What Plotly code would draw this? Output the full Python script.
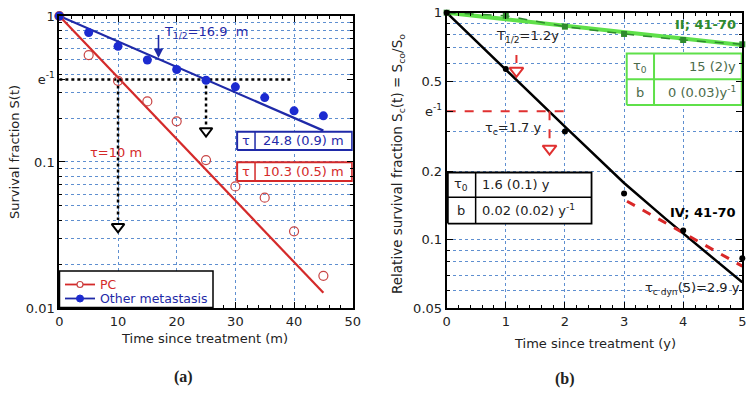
import math
import plotly.graph_objects as go

# ---------------- data: panel (a) ----------------
t_a = [0, 5, 10, 15, 20, 25, 30, 35, 40, 45]
pc_s = [1.0, 0.54, 0.36, 0.26, 0.19, 0.103, 0.068, 0.057, 0.0335, 0.0166]
met_s = [1.0, 0.77, 0.62, 0.50, 0.43, 0.363, 0.327, 0.276, 0.224, 0.207]
fit_t_a = [0, 45]
pc_fit_s = [1.0, 0.0127]
met_fit_s = [1.0, 0.164]
yticks_a = [0.01, math.exp(-1), 0.1, 1]
yticktext_a = ["0.01", "e<sup>-1</sup>", "0.1", "1"]
legend_names = ["PC", "Other metastasis"]

# ---------------- data: panel (b) ----------------
t_b = [0, 1, 2, 3, 4, 5]
iv_s = [1.0, 0.565, 0.30, 0.16, 0.11, 0.083]
ii_s = [1.0, 0.97, 0.868, 0.806, 0.758, 0.726]
iv_fit_t = [0, 1, 2, 3, 3.7, 5]
iv_fit_s = [1.0, 0.56, 0.315, 0.178, 0.124, 0.065]
ii_fit_t = [0, 5]
ii_fit_s = [1.0, 0.72]
tan_t = [3.05, 5]
tan_s = [0.148, 0.0766]
yticks_b = [0.05, 0.1, 0.2, math.exp(-1), 0.5, 1]
yticktext_b = ["0.05", "0.1", "0.2", "e<sup>-1</sup>", "0.5", "1"]

E1 = math.exp(-1)
L = math.log10

FONT = "DejaVu Sans"
BLUE = "#1f2aa8"
BLUE_PT = "#1c2bd0"
RED = "#d42a2a"
RED_PT = "#c84545"
GRID = "#5f8fd0"
GREEN_L = "#5fe04a"
GREEN_D = "#2e8a2e"
GREEN_T = "#4b6b4b"
RED_D = "#e03030"

fig = go.Figure()


def line(x, y, color, width, dash="solid", xa="x", ya="y"):
    fig.add_trace(go.Scatter(x=x, y=y, mode="lines", xaxis=xa, yaxis=ya,
                             line=dict(color=color, width=width, dash=dash),
                             showlegend=False, hoverinfo="skip", cliponaxis=False))


def box(x0, x1, y0, y1, color, width, xa, ya):
    fig.add_trace(go.Scatter(x=[x0, x1, x1, x0, x0], y=[y0, y0, y1, y1, y0], mode="lines",
                             fill="toself", fillcolor="white", xaxis=xa, yaxis=ya,
                             line=dict(color=color, width=width), showlegend=False,
                             hoverinfo="skip", cliponaxis=False))


def head(x, y, color, size, xa, ya):
    fig.add_trace(go.Scatter(x=[x], y=[y], mode="markers", xaxis=xa, yaxis=ya,
                             marker=dict(symbol="triangle-down", size=size, color="white",
                                         line=dict(color=color, width=2)),
                             showlegend=False, hoverinfo="skip", cliponaxis=False))


# ---------- panel (a) ----------
line(fit_t_a, pc_fit_s, RED, 2.2)
line(fit_t_a, met_fit_s, BLUE, 2.2)
line([0, 39.6], [E1, E1], "black", 2.5, "dot")
line([10, 10], [E1, 0.040], "black", 2.5, "dot")
line([25, 25], [E1, 0.179], "black", 2.5, "dot")
head(10, 0.036, "black", 11, "x", "y")
head(25, 0.163, "black", 11, "x", "y")
box(30.3, 49.9, 0.121, 0.161, BLUE, 2, "x", "y")
line([33.35, 33.35], [0.121, 0.161], BLUE, 1.5)
box(30.3, 49.9, 0.0741, 0.0995, RED, 2, "x", "y")
line([33.35, 33.35], [0.0741, 0.0995], RED, 1.5)

fig.add_trace(go.Scatter(x=t_a, y=pc_s, mode="markers", xaxis="x", yaxis="y", name=legend_names[0],
                         marker=dict(symbol="circle-open", size=9, color=RED_PT, line=dict(width=1.2)),
                         showlegend=False, cliponaxis=False))
fig.add_trace(go.Scatter(x=t_a, y=met_s, mode="markers", xaxis="x", yaxis="y", name=legend_names[1],
                         marker=dict(symbol="circle", size=9, color=BLUE_PT),
                         showlegend=False, cliponaxis=False))

# ---------- panel (b) ----------
line(ii_fit_t, ii_fit_s, GREEN_L, 4, xa="x2", ya="y2")
line(t_b, ii_s, GREEN_D, 1.5, "dash", xa="x2", ya="y2")
line(iv_fit_t, iv_fit_s, "black", 2.5, xa="x2", ya="y2")
line(tan_t, tan_s, "#d92828", 3, "dash", xa="x2", ya="y2")
line([0, 2.03], [E1, E1], RED_D, 2, "dash", xa="x2", ya="y2")
line([1.74, 1.74], [E1, 0.275], RED_D, 2, "dash", xa="x2", ya="y2")
line([1.18, 1.18], [0.651, 0.60], RED_D, 2, "dash", xa="x2", ya="y2")
head(1.74, 0.252, RED_D, 12, "x2", "y2")
head(1.18, 0.555, RED_D, 12, "x2", "y2")
box(3.045, 4.99, 0.392, 0.662, GREEN_L, 2, "x2", "y2")
line([3.507, 3.507], [0.392, 0.662], GREEN_L, 2, xa="x2", ya="y2")
line([3.045, 4.99], [0.51, 0.51], GREEN_L, 2, xa="x2", ya="y2")
box(0.02, 2.45, 0.118, 0.198, "black", 1.8, "x2", "y2")
line([0.49, 0.49], [0.118, 0.198], "black", 1.5, xa="x2", ya="y2")
line([0.02, 2.45], [0.154, 0.154], "black", 1.5, xa="x2", ya="y2")

fig.add_trace(go.Scatter(x=t_b, y=ii_s, mode="markers", xaxis="x2", yaxis="y2",
                         marker=dict(symbol="square", size=6, color=GREEN_D),
                         showlegend=False, cliponaxis=False))
fig.add_trace(go.Scatter(x=t_b, y=iv_s, mode="markers", xaxis="x2", yaxis="y2",
                         marker=dict(symbol="circle", size=6, color="black"),
                         showlegend=False, cliponaxis=False))

# ---------- axes ----------
tickfont = dict(family=FONT, size=13, color="#222")


def xaxis(domain, rng, dtick, mdtick, anchor):
    return dict(domain=domain, range=rng, dtick=dtick, tick0=0, anchor=anchor, automargin=False,
                ticks="inside", ticklen=6, tickwidth=1.2, tickcolor="black",
                showline=True, linecolor="black", linewidth=2, mirror="allticks",
                showgrid=True, gridcolor=GRID, griddash="dot", gridwidth=1, zeroline=False,
                minor=dict(dtick=mdtick, ticks="inside", ticklen=3, tickcolor="black", showgrid=False),
                tickfont=tickfont)


def yaxis(domain, rng, tv, tt, minor_vals, anchor):
    return dict(domain=domain, type="log", range=rng, tickmode="array", tickvals=tv, ticktext=tt,
                anchor=anchor, automargin=False, ticks="inside", ticklen=6, tickwidth=1.2,
                tickcolor="black", showline=True, linecolor="black", linewidth=2, mirror="allticks",
                showgrid=False, zeroline=False,
                minor=dict(tickmode="array", tickvals=minor_vals, ticks="inside", ticklen=3,
                           tickcolor="black", showgrid=True, gridcolor=GRID, griddash="dot", gridwidth=1),
                tickfont=tickfont)


minor_a = [0.02, 0.03, 0.04, 0.05, 0.06, 0.07, 0.08, 0.09, 0.1,
           0.2, 0.3, 0.4, 0.5, 0.6, 0.7, 0.8, 0.9]
minor_b = [0.06, 0.07, 0.08, 0.09, 0.1, 0.2, 0.3, 0.5, 0.6, 0.7, 0.8, 0.9]

fig.update_layout(
    width=754, height=395, margin=dict(l=0, r=0, t=0, b=0),
    paper_bgcolor="white", plot_bgcolor="white", showlegend=False,
    xaxis=xaxis([0.0787, 0.4678], [0, 50], 10, 2, "y"),
    yaxis=yaxis([0.2203, 0.9595], [-2, 0], yticks_a, yticktext_a, minor_a, "x"),
    xaxis2=xaxis([0.5924, 0.9845], [0, 5], 1, 0.2, "y2"),
    yaxis2=yaxis([0.2195, 0.9679], [L(0.05), 0], yticks_b, yticktext_b, minor_b, "x2"),
)

# ---------- legend box for panel (a), drawn in paper pixels ----------
W, H = 754.0, 395.0
px = lambda v: v / W
py = lambda v: 1 - v / H
shapes = [
    dict(type="rect", xref="paper", yref="paper", x0=px(59.5), x1=px(213), y0=py(271), y1=py(307.5),
         line=dict(color="black", width=1.5), fillcolor="white", layer="above"),
    dict(type="line", xref="paper", yref="paper", x0=px(65), x1=px(95), y0=py(284.5), y1=py(284.5),
         line=dict(color=RED, width=1.8), layer="above"),
    dict(type="circle", xref="paper", yref="paper", x0=px(77), x1=px(83), y0=py(281.5), y1=py(287.5),
         line=dict(color=RED_PT, width=1.2), fillcolor="white", layer="above"),
    dict(type="line", xref="paper", yref="paper", x0=px(65), x1=px(95), y0=py(298.5), y1=py(298.5),
         line=dict(color=BLUE, width=1.8), layer="above"),
    dict(type="circle", xref="paper", yref="paper", x0=px(76.5), x1=px(83.5), y0=py(295), y1=py(302),
         line=dict(color=BLUE_PT, width=1), fillcolor=BLUE_PT, layer="above"),
]
fig.update_layout(shapes=shapes)

ann = []


def text(x, y, s, xa, ya, color="black", size=13, xanchor="center", bold=False, family=FONT):
    ann.append(dict(x=x, y=y, xref=xa, yref=ya, text=("<b>%s</b>" % s) if bold else s,
                    showarrow=False, xanchor=xanchor, yanchor="middle",
                    font=dict(family=family, size=size, color=color)))


# panel (a) texts
text(17.5, L(0.765), "T<sub>1/2</sub>=16.9  m", "x", "y", BLUE, 13, "left")
ann.append(dict(x=16.9, y=L(0.515), ax=16.9, ay=L(0.76), xref="x", yref="y", axref="x", ayref="y",
                showarrow=True, arrowhead=2, arrowsize=1.2, arrowwidth=1.6, arrowcolor=BLUE, text=""))
text(9.66, L(0.117), "τ=10 m", "x", "y", RED, 13)
text(31.8, (L(0.121) + L(0.161)) / 2, "τ", "x", "y", BLUE, 13)
text(41.6, (L(0.121) + L(0.161)) / 2, "24.8 (0.9) m", "x", "y", BLUE, 13)
text(31.8, (L(0.0741) + L(0.0995)) / 2, "τ", "x", "y", RED, 13)
text(41.6, (L(0.0741) + L(0.0995)) / 2, "10.3 (0.5) m", "x", "y", RED, 13)

# panel (b) texts
text(1.367, -0.107, "T<sub>1/2</sub>=1.2y", "x2", "y2", "#222", 13)
text(1.13, -0.508, "τ<sub>c</sub>=1.7 y", "x2", "y2", "#222", 13)
text(3.27, (L(0.662) + L(0.51)) / 2, "τ<sub>0</sub>", "x2", "y2", GREEN_T, 13)
text(4.93, (L(0.662) + L(0.51)) / 2, "15 (2)y", "x2", "y2", GREEN_T, 13, "right")
text(3.27, (L(0.51) + L(0.392)) / 2, "b", "x2", "y2", GREEN_T, 13)
text(4.93, (L(0.51) + L(0.392)) / 2, "0 (0.03)y<sup>-1</sup>", "x2", "y2", GREEN_T, 13, "right")
text(0.25, (L(0.198) + L(0.154)) / 2, "τ<sub>0</sub>", "x2", "y2", "#222", 13)
text(0.56, (L(0.198) + L(0.154)) / 2, "1.6 (0.1) y", "x2", "y2", "#222", 13, "left")
text(0.25, (L(0.154) + L(0.118)) / 2, "b", "x2", "y2", "#222", 13)
text(0.56, (L(0.154) + L(0.118)) / 2, "0.02 (0.02) y<sup>-1</sup>", "x2", "y2", "#222", 13, "left")
text(4.93, -0.054, "II; 41-70", "x2", "y2", GREEN_D, 13, "right", True)
text(4.93, -0.881, "IV; 41-70", "x2", "y2", "black", 13, "right", True)
text(4.99, -1.213, "τ<sub>c dyn</sub>(5)=2.9 y", "x2", "y2", "#222", 13, "right")


# axis titles, legend labels and captions (paper coords)
def ptext(x, y, s, size=13, angle=0, family=FONT, bold=False, color="#222", xanchor="center"):
    ann.append(dict(x=x / W, y=1 - y / H, xref="paper", yref="paper",
                    text=("<b>%s</b>" % s) if bold else s, showarrow=False, textangle=angle,
                    xanchor=xanchor, yanchor="middle", font=dict(family=family, size=size, color=color)))


ptext(98, 284.5, legend_names[0], 12.5, color=RED, xanchor="left")
ptext(98, 298.5, legend_names[1], 12.5, color=BLUE, xanchor="left")
ptext(205, 338, "Time since treatment (m)")
ptext(595, 343, "Time since treatment (y)")
ptext(14, 152, "Survival fraction S(t)", angle=-90)
ptext(398, 164, "Relative survival fraction S<sub>c</sub>(t) = S<sub>co</sub>/S<sub>o</sub>", 13.5, angle=-90)
ptext(183, 377, "(a)", 16, family="Liberation Serif", bold=True)
ptext(565, 379, "(b)", 16, family="Liberation Serif", bold=True)

fig.update_layout(annotations=ann)
fig.write_html("out.html", config={"displayModeBar": False},
               post_script="document.body.style.margin='0px';")
